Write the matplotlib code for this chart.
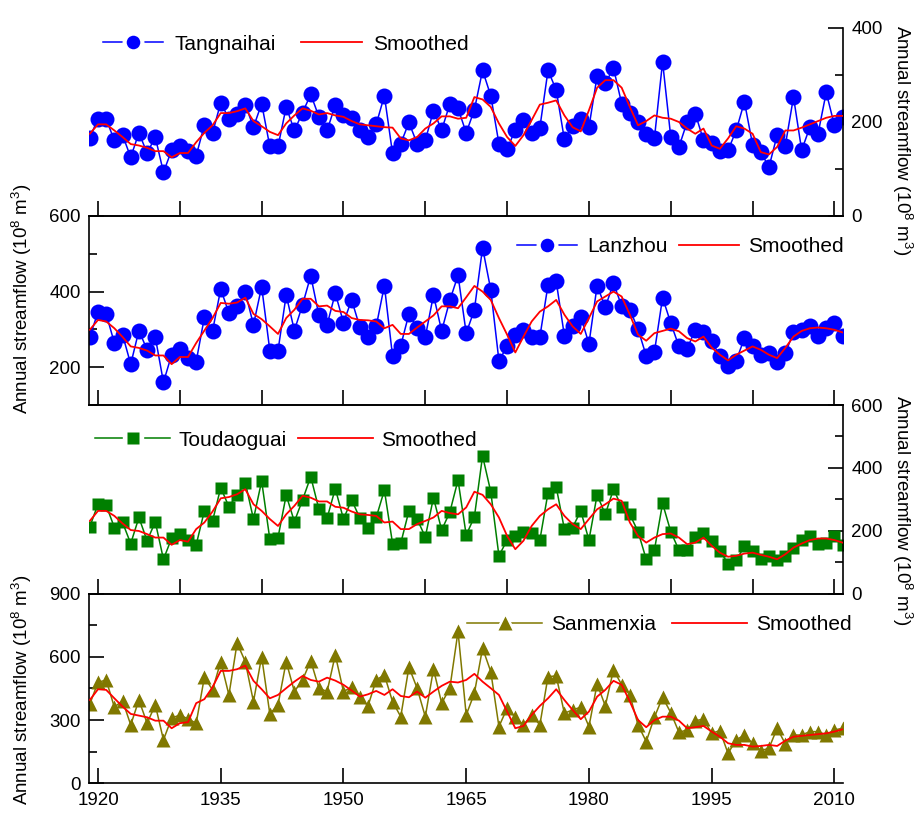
import matplotlib
matplotlib.use("Agg")
import matplotlib.pyplot as plt
from matplotlib.lines import Line2D
from matplotlib.ticker import MultipleLocator
import numpy as np

plt.rcParams['font.family'] = 'Liberation Sans'
plt.rcParams['mathtext.fontset'] = 'custom'
plt.rcParams['mathtext.rm'] = 'Liberation Sans'
plt.rcParams['mathtext.default'] = 'regular'

#%% data

years = np.arange(1919, 2012)

tangnaihai = [167, 207, 206, 161, 172, 125, 177, 134, 168, 93,
              140, 149, 138, 128, 194, 177, 241, 207, 218, 237,
              189, 239, 148, 148, 232, 182, 220, 259, 211, 182,
              236, 214, 209, 184, 168, 195, 256, 133, 154, 199,
              154, 161, 224, 183, 238, 229, 177, 226, 310, 256,
              154, 142, 184, 204, 177, 188, 310, 268, 163, 191,
              207, 189, 298, 282, 315, 239, 220, 199, 175, 165,
              328, 168, 147, 200, 218, 161, 155, 138, 140, 182,
              243, 152, 136, 104, 172, 150, 253, 140, 189, 175,
              263, 193, 211]
tangnaihai_smooth = [175, 195, 195, 182, 168, 153, 150, 145, 138, 138,
                     125, 134, 134, 157, 177, 193, 219, 219, 223, 229,
                     202, 191, 179, 172, 197, 214, 229, 224, 216, 219,
                     214, 211, 202, 195, 193, 191, 189, 188, 165, 161,
                     168, 186, 197, 212, 212, 207, 209, 253, 248, 232,
                     197, 168, 149, 172, 204, 237, 241, 246, 214, 189,
                     180, 225, 273, 289, 289, 273, 232, 193, 202, 214,
                     209, 207, 200, 186, 175, 186, 150, 143, 165, 191,
                     186, 175, 136, 131, 147, 182, 182, 188, 195, 202,
                     209, 213, 213]

lanzhou = [280, 346, 341, 264, 286, 208, 297, 246, 280, 160,
           233, 249, 224, 215, 332, 296, 407, 343, 361, 399,
           312, 413, 244, 244, 391, 297, 365, 442, 337, 312,
           396, 318, 378, 306, 281, 308, 416, 229, 257, 341,
           303, 280, 391, 296, 377, 443, 290, 352, 516, 405,
           217, 255, 286, 299, 280, 280, 418, 427, 283, 308,
           334, 262, 416, 359, 422, 362, 352, 301, 230, 240,
           384, 317, 255, 249, 299, 292, 268, 230, 202, 217,
           277, 255, 233, 237, 214, 237, 292, 299, 310, 283,
           305, 317, 283]
lanzhou_smooth = [299, 325, 321, 303, 280, 255, 251, 244, 231, 231,
                  208, 227, 227, 264, 297, 330, 370, 368, 371, 384,
                  341, 327, 308, 288, 330, 352, 381, 381, 361, 363,
                  349, 346, 330, 325, 324, 321, 303, 312, 288, 288,
                  305, 321, 337, 361, 361, 356, 385, 415, 400, 378,
                  330, 286, 239, 281, 321, 347, 361, 378, 339, 308,
                  288, 330, 374, 387, 400, 387, 339, 286, 270, 290,
                  296, 302, 295, 277, 268, 281, 252, 233, 218, 233,
                  244, 255, 246, 233, 224, 251, 281, 296, 303, 305,
                  303, 299, 292]

toudaoguai = [213, 284, 281, 210, 226, 159, 242, 168, 228, 109,
              176, 189, 170, 155, 263, 231, 337, 276, 314, 353,
              237, 358, 173, 178, 313, 229, 298, 372, 268, 240,
              334, 237, 298, 240, 210, 242, 329, 159, 160, 263,
              237, 180, 305, 202, 259, 361, 186, 244, 438, 324,
              120, 170, 183, 197, 194, 170, 321, 339, 205, 210,
              263, 170, 314, 252, 332, 276, 252, 197, 109, 138,
              287, 197, 138, 138, 180, 192, 168, 136, 95, 106,
              150, 136, 109, 118, 106, 120, 146, 170, 183, 159,
              162, 183, 155]
toudaoguai_smooth = [231, 263, 263, 247, 223, 202, 199, 189, 178, 178,
                     155, 170, 165, 205, 226, 261, 303, 307, 316, 332,
                     284, 263, 237, 215, 252, 279, 311, 305, 293, 293,
                     276, 273, 261, 252, 250, 247, 226, 229, 205, 205,
                     221, 231, 242, 263, 256, 252, 274, 324, 314, 284,
                     242, 183, 141, 168, 215, 247, 268, 284, 247, 221,
                     205, 237, 268, 284, 302, 295, 226, 183, 162, 178,
                     189, 191, 178, 157, 162, 178, 152, 130, 117, 120,
                     127, 130, 123, 117, 109, 125, 146, 159, 170, 175,
                     175, 170, 162]

sanmenxia = [376, 479, 490, 361, 392, 277, 395, 285, 372, 206,
             309, 324, 305, 285, 503, 443, 577, 419, 665, 577,
             387, 601, 329, 372, 577, 435, 490, 581, 451, 435,
             609, 435, 456, 411, 367, 490, 514, 387, 316, 551,
             451, 316, 541, 380, 451, 720, 324, 427, 641, 530,
             269, 356, 313, 277, 324, 277, 506, 509, 332, 348,
             361, 269, 471, 367, 538, 467, 419, 277, 198, 313,
             408, 335, 242, 253, 297, 304, 237, 250, 142, 206,
             229, 190, 155, 166, 261, 187, 229, 229, 245, 245,
             229, 253, 261]
sanmenxia_smooth = [395, 446, 443, 403, 364, 329, 321, 313, 297, 297,
                    261, 285, 290, 380, 399, 456, 533, 533, 541, 558,
                    486, 446, 403, 419, 451, 482, 509, 490, 482, 501,
                    487, 467, 440, 411, 422, 438, 419, 446, 414, 408,
                    435, 406, 435, 462, 482, 478, 490, 519, 482, 451,
                    419, 340, 261, 272, 324, 367, 403, 446, 395, 348,
                    304, 340, 411, 443, 486, 467, 388, 300, 266, 300,
                    316, 316, 297, 261, 266, 272, 245, 221, 190, 182,
                    182, 174, 177, 182, 177, 202, 221, 225, 229, 233,
                    237, 245, 256]

stations = ['Tangnaihai', 'Lanzhou', 'Toudaoguai', 'Sanmenxia']

#%% figure layout (pixel based, 917 x 817)

W, H = 917, 817
fig = plt.figure(figsize=(W / 100, H / 100), dpi=100)

x0, x1 = 89, 843
edges = [28, 216, 405, 593.5, 783.3]
axs = []
for i in range(4):
    top, bot = edges[i], edges[i + 1]
    ax = fig.add_axes([x0 / W, 1 - bot / H, (x1 - x0) / W, (bot - top) / H])
    axs.append(ax)
ax1, ax2, ax3, ax4 = axs

ylabel = 'Annual streamflow (10$^8$ m$^3$)'
red = '#ff0000'

series = [
    (ax1, tangnaihai, tangnaihai_smooth, '#0000ff', 'o', 11.5, (0, 400), 200, 100, 'right'),
    (ax2, lanzhou, lanzhou_smooth, '#0000ff', 'o', 11.5, (100, 600), 200, 100, 'left'),
    (ax3, toudaoguai, toudaoguai_smooth, '#007f00', 's', 9.2, (0, 600), 200, 100, 'right'),
    (ax4, sanmenxia, sanmenxia_smooth, '#807800', '^', 9.8, (0, 900), 300, 150, 'left'),
]

for n, (ax, vals, smooth, c, m, ms, ylim, major, minor, side) in enumerate(series):
    ax.plot(years, vals, color=c, lw=1.1, marker=m, ms=ms, mec='none', zorder=2)
    ax.plot(years, smooth, color=red, lw=1.3, zorder=3)
    ax.set_xlim(1918.9, 2011.05)
    ax.set_ylim(*ylim)
    ax.yaxis.set_major_locator(MultipleLocator(major))
    ax.yaxis.set_minor_locator(MultipleLocator(minor))
    ax.set_facecolor('none')

    for s in ax.spines.values():
        s.set_linewidth(1.2)
    ax.spines['top'].set_visible(n > 0)
    if side == 'right':
        ax.spines['left'].set_visible(False)
        ax.yaxis.tick_right()
    else:
        ax.spines['right'].set_visible(False)
        ax.yaxis.tick_left()

    ax.tick_params(axis='both', which='major', direction='in', length=11, width=1.2,
                   labelsize=13.5, pad=6)
    ax.tick_params(axis='y', which='minor', direction='in', length=5.5, width=1.2)
    ax.tick_params(axis='x', which='both', top=False)

    if n < 3:
        ax.xaxis.set_major_locator(MultipleLocator(10))
        ax.tick_params(axis='x', labelbottom=False)
    else:
        ax.set_xticks(np.arange(1920, 2011, 15))

#%% legends with a gap in the line around the marker

leg_pos = [(103, 44), (517, 247), (95, 440), (467, 625)]
leg_opts = [(2.9, 0.55, 1.2), (2.9, 0.45, 0.55), (3.6, 0.4, 0.55), (3.6, 0.42, 0.8)]
leg_scale = [0.85, 0.85, 1.0, 1.05]
for n, (ax, vals, smooth, c, m, ms, ylim, major, minor, side) in enumerate(series):
    lms = ms * leg_scale[n]
    gap = Line2D([], [], color=c, lw=1.1, marker=m, ms=lms + 5, mfc='white', mec='white')
    mark = Line2D([], [], ls='none', marker=m, ms=lms, color=c, mec='none')
    sm = Line2D([], [], color=red, lw=1.3)
    hl, tp, cs = leg_opts[n]
    lx, ly = leg_pos[n]
    ax.legend([(gap, mark), sm], [stations[n], 'Smoothed'], ncol=2, frameon=False,
              fontsize=15, handlelength=hl, handletextpad=tp, columnspacing=cs,
              loc='center left', bbox_to_anchor=(lx / W, 1 - ly / H),
              bbox_transform=fig.transFigure, borderpad=0, borderaxespad=0)

#%% axis titles

fig.text(902 / W, 1 - 140 / H, ylabel, rotation=270, ha='center', va='center', size=13.5)
fig.text(22 / W, 1 - 299 / H, ylabel, rotation=90, ha='center', va='center', size=13.5)
fig.text(902 / W, 1 - 510 / H, ylabel, rotation=270, ha='center', va='center', size=13.5)
fig.text(22 / W, 1 - 690 / H, ylabel, rotation=90, ha='center', va='center', size=13.5)

plt.savefig('out.png', dpi=100)
